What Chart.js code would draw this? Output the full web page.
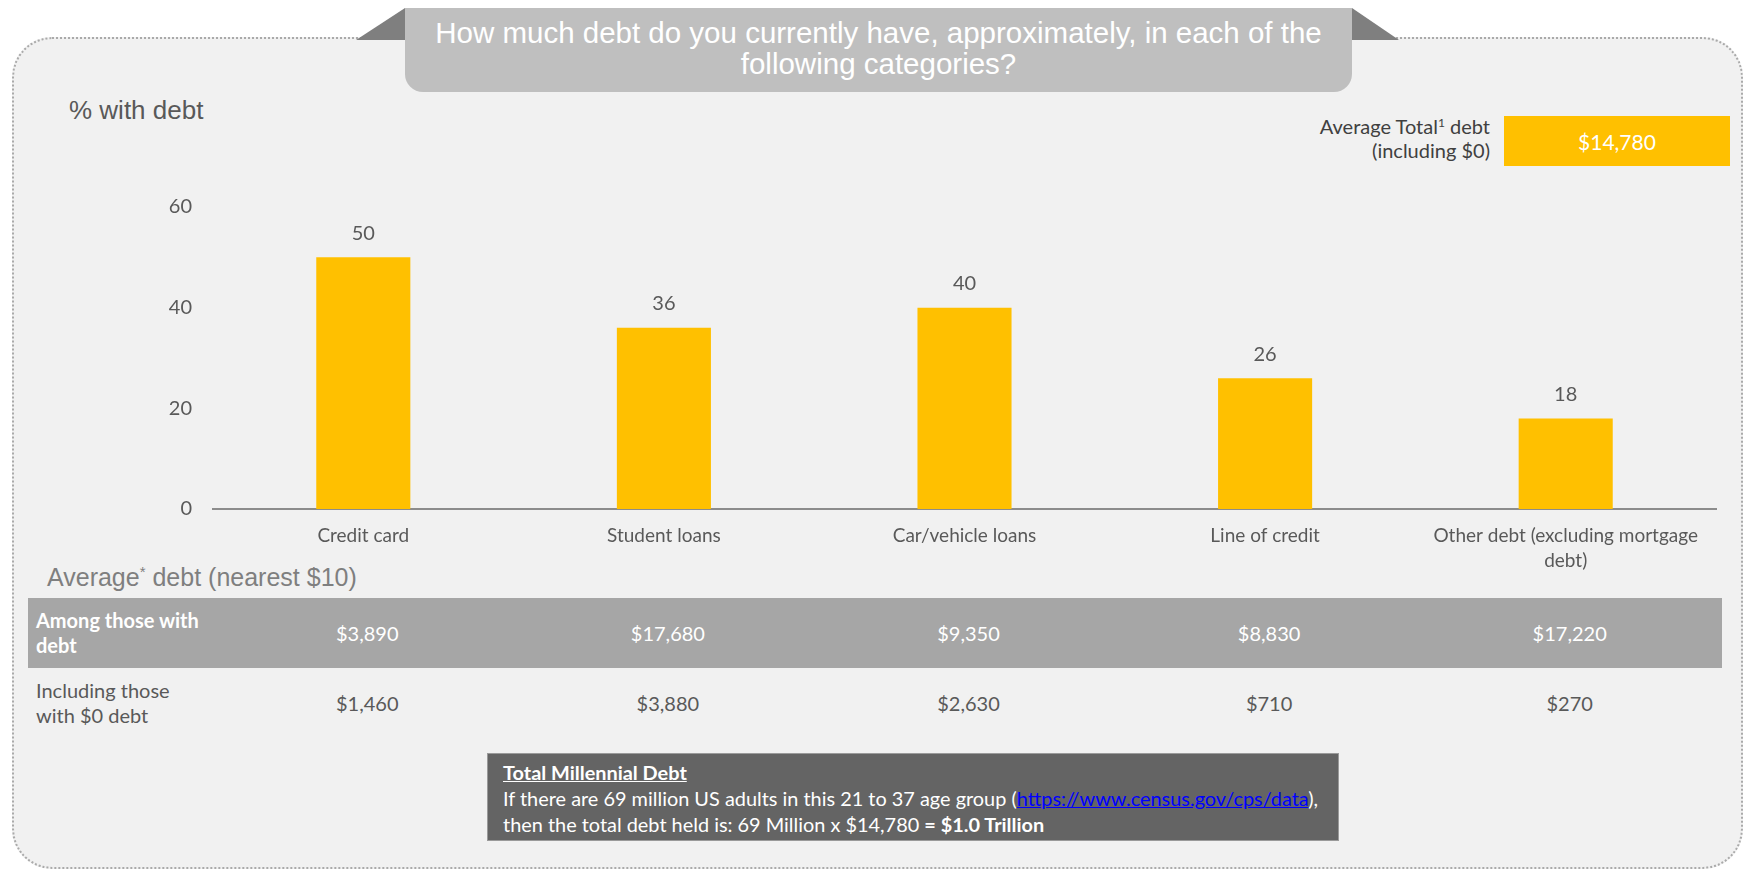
<!DOCTYPE html>
<html>
<head>
<meta charset="utf-8">
<script src="https://cdn.jsdelivr.net/npm/chart.js@4.4.1/dist/chart.umd.min.js"></script>
<style>
  html, body { margin: 0; padding: 0; background: #fff; }
  body { width: 1746px; height: 872px; position: relative; overflow: hidden; font-family: Lato, sans-serif; }
  .abs { position: absolute; }
  #panel { left: 12px; top: 37px; width: 1727px; height: 828px; border: 2px dotted #aaaaaa; border-radius: 40px; background: #f1f1f1; }
  .fold { background: #7f7f7f; width: 49px; height: 32px; top: 8px; }
  #foldLeft { left: 356px; clip-path: polygon(100% 0, 100% 100%, 0 100%); }
  #foldRight { left: 1352px; width: 47px; clip-path: polygon(0 0, 100% 100%, 0 100%); }
  #titleBox { left: 405px; top: 8px; width: 947px; height: 84px; background: #bfbfbf; border-radius: 0 0 18px 18px; }
  #title { left: 405px; top: 17px; width: 947px; text-align: center; color: #fff; font: 29.5px/31px "Liberation Sans", Arial, sans-serif; }
  #pctTitle { left: 69px; top: 97px; color: #595959; font: 26px/26px "Liberation Sans", Arial, sans-serif; }
  #avgTitle { left: 47px; top: 565px; color: #7f7f7f; font: 25px/25px "Liberation Sans", Arial, sans-serif; }
  sup { font-size: 60%; line-height: 0; vertical-align: 0.6em; }
  #totalLabel { right: 256px; top: 114px; text-align: right; color: #404040; font-size: 20px; line-height: 24px; }
  #totalBox { left: 1504px; top: 116px; width: 226px; height: 50px; background: #ffc000; color: #fff; font-size: 21px; display: flex; align-items: center; justify-content: center; }
  #rowDark { left: 28px; top: 598px; width: 1694px; height: 70px; background: #a6a6a6; }
  .rowHead { left: 36px; font-size: 20px; line-height: 25px; }
  .cell { width: 200px; margin-left: -100px; text-align: center; font-size: 20px; line-height: 25px; }
  #note { left: 487px; top: 753px; width: 835px; height: 81px; padding: 5px 0 0 15px; background: #646464; border: 1px solid #9a9a9a; color: #fff; font-size: 19.9px; line-height: 26px; }
  #note a { color: #0000ff; }
  #chartCanvas { position: absolute; left: 0; top: 150px; }
</style>
</head>
<body>
<div id="panel" class="abs"></div>
<div id="foldLeft" class="abs fold"></div>
<div id="foldRight" class="abs fold"></div>
<div id="titleBox" class="abs"></div>
<div id="title" class="abs">How much debt do you currently have, approximately, in each of the<br>following categories?</div>
<div id="pctTitle" class="abs">% with debt</div>
<div id="totalLabel" class="abs">Average Total<sup>1</sup> debt<br>(including $0)</div>
<div id="totalBox" class="abs"></div>
<div id="avgTitle" class="abs">Average<sup>*</sup> debt (nearest $10)</div>
<div id="rowDark" class="abs"></div>
<div class="abs rowHead" style="top:608px;color:#fff;font-weight:bold">Among those with<br>debt</div>
<div class="abs rowHead" style="top:678px;color:#595959">Including those<br>with $0 debt</div>
<div id="cells"></div>
<div id="note" class="abs"><b><u>Total Millennial Debt</u></b><br>If there are 69 million US adults in this 21 to 37 age group (<a href="#">https://www.census.gov/cps/data</a>),<br>then the total debt held is: 69 Million x $14,780 <b>= $1.0 Trillion</b></div>
<canvas id="chartCanvas" width="1746" height="430"></canvas>
<script>
// chart data
let categories = ['Credit card', 'Student loans', 'Car/vehicle loans', 'Line of credit', ['Other debt (excluding mortgage', 'debt)']]
let pctWithDebt = [50, 36, 40, 26, 18]
let yTicks = [0, 20, 40, 60]

// table under the chart (dollars)
let avgAmongWithDebt = [3890, 17680, 9350, 8830, 17220]
let avgIncludingZero = [1460, 3880, 2630, 710, 270]
let avgTotalDebt = 14780

let money = v => '$' + v.toLocaleString('en-US')
document.querySelector('#totalBox').textContent = money(avgTotalDebt)

// value labels above each bar
let barValueLabels = {
    id: 'barValueLabels',
    afterDatasetsDraw(chart) {
        let ctx = chart.ctx
        let meta = chart.getDatasetMeta(0)
        ctx.save()
        ctx.font = '20px Lato'
        ctx.fillStyle = '#595959'
        ctx.textAlign = 'center'
        ctx.textBaseline = 'middle'
        meta.data.forEach((bar, i) => {
            ctx.fillText(pctWithDebt[i], bar.x, bar.y - 24)
        })
        ctx.restore()
    }
}

let ctx = document.querySelector('#chartCanvas').getContext('2d')
let debtChart = new Chart(ctx, {
    type: 'bar',
    data: {
        labels: categories,
        datasets: [{
            data: pctWithDebt,
            backgroundColor: '#ffc000',
            categoryPercentage: 1,
            barPercentage: 0.313
        }]
    },
    options: {
        responsive: false,
        animation: false,
        layout: { padding: { left: 0, right: 30, top: 57, bottom: 0 } },
        plugins: { legend: { display: false }, tooltip: { enabled: false } },
        scales: {
            x: {
                grid: { display: false, drawTicks: false },
                border: { display: true, color: '#8c8c8c', width: 2 },
                ticks: { color: '#595959', font: { family: 'Lato', size: 19, lineHeight: 1.32 }, padding: 14, maxRotation: 0, autoSkip: false },
                afterFit: scale => { scale.height = 71 }
            },
            y: {
                min: 0,
                max: 60,
                grid: { display: false, drawTicks: false },
                border: { display: false },
                afterBuildTicks: scale => { scale.ticks = yTicks.map(v => ({ value: v })) },
                ticks: { color: '#595959', font: { family: 'Lato', size: 20 }, padding: 21 },
                afterFit: scale => { scale.width = 213 }
            }
        }
    },
    plugins: [barValueLabels]
})

// place the table cells under each category using the chart's x scale
let cells = document.querySelector('#cells')
let xScale = debtChart.scales.x
categories.forEach((c, i) => {
    let x = xScale.getPixelForValue(i) + 4
    let top1 = document.createElement('div')
    top1.className = 'abs cell'
    top1.style.left = x + 'px'
    top1.style.top = '621px'
    top1.style.color = '#fff'
    top1.textContent = money(avgAmongWithDebt[i])
    cells.appendChild(top1)
    let top2 = document.createElement('div')
    top2.className = 'abs cell'
    top2.style.left = x + 'px'
    top2.style.top = '691px'
    top2.style.color = '#595959'
    top2.textContent = money(avgIncludingZero[i])
    cells.appendChild(top2)
})
</script>
</body>
</html>
